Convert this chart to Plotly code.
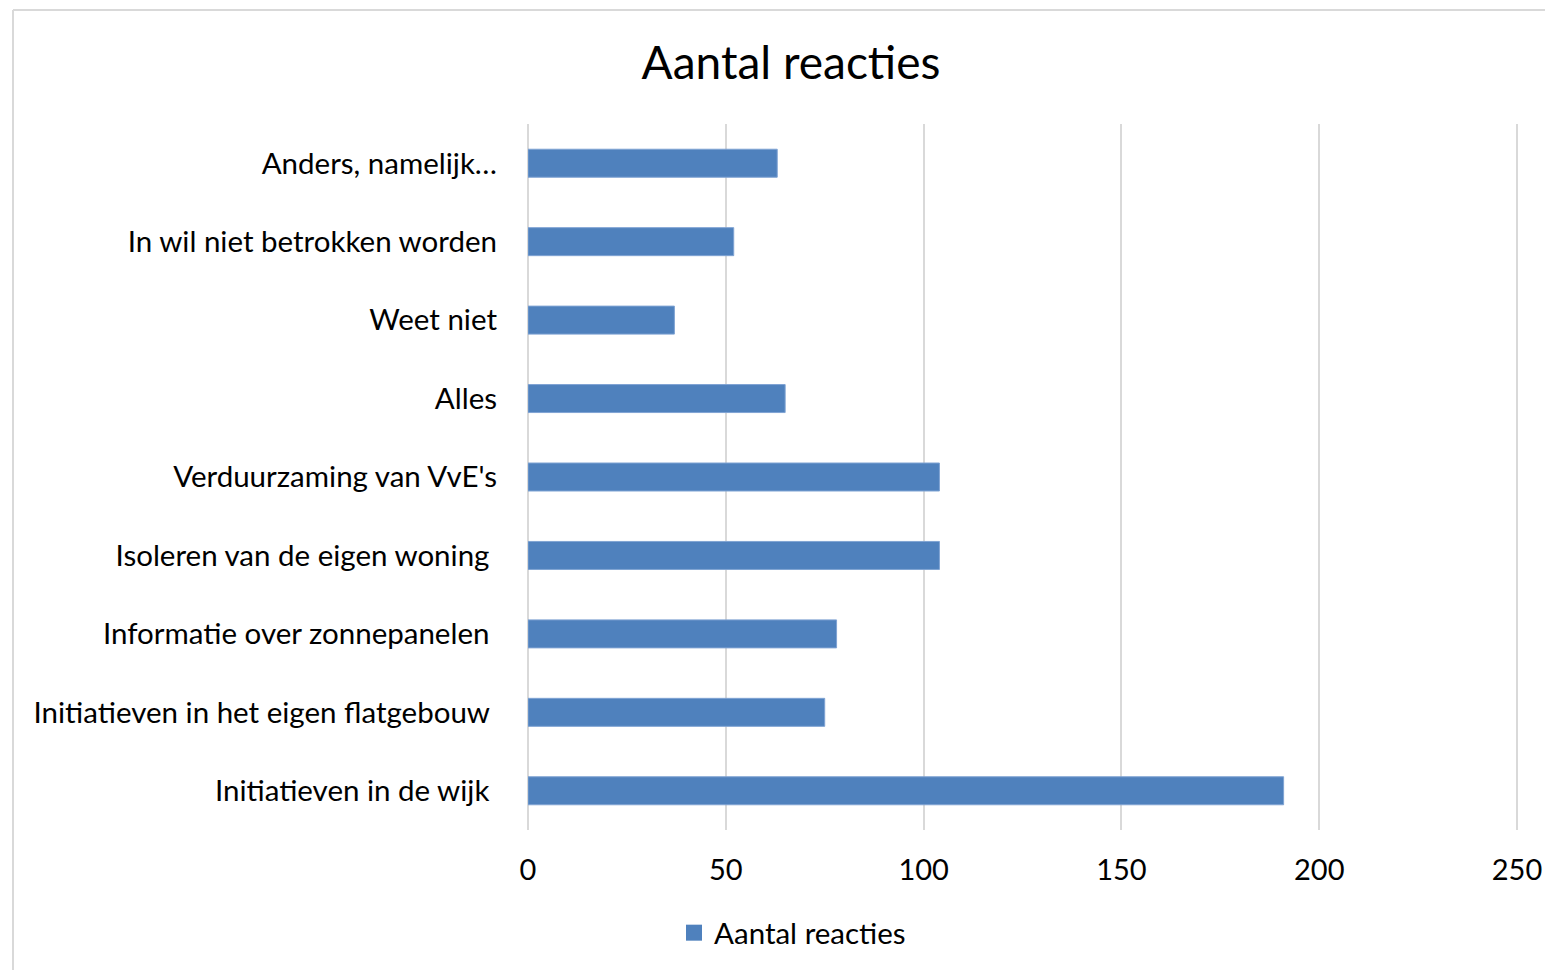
import plotly.graph_objects as go

categories = [
    "Initiatieven in de wijk\u00a0",
    "Initiatieven in het eigen flatgebouw\u00a0",
    "Informatie over zonnepanelen\u00a0",
    "Isoleren van de eigen woning\u00a0",
    "Verduurzaming van VvE's",
    "Alles",
    "Weet niet",
    "In wil niet betrokken worden",
    "Anders, namelijk…",
]
values = [191, 75, 78, 104, 104, 65, 37, 52, 63]
series_name = "Aantal reacties"
x_ticks = [0, 50, 100, 150, 200, 250]

OFF = 8  # page body margin
W, H = 1553 - OFF, 970 - OFF
X_MAX = 250.5
PX_PER_UNIT = (1517 - 528) / 250
L, T, B = 528 - OFF, 124 - OFF, 970 - 830
R = W - L - PX_PER_UNIT * X_MAX
FONT = "Lato"
FS = 29.5

fig = go.Figure()
fig.add_trace(go.Bar(
    y=categories, x=values, orientation="h", name=series_name,
    marker=dict(color="#4f81bd", line=dict(color="#7fa3d3", width=1)),
    showlegend=False,
))
# legend proxy (square swatch like the original)
fig.add_trace(go.Scatter(
    x=[None], y=[None], mode="markers", name=series_name,
    marker=dict(symbol="square", size=17, color="#4f81bd"),
    showlegend=True, hoverinfo="skip",
))

pw = W - L - R
ph = H - T - B
def px_x(p):
    return (p - OFF - L) / pw
def px_y(p):
    return 1 - (p - OFF - T) / ph

fig.update_layout(
    width=W, height=H,
    margin=dict(l=L, r=R, t=T, b=B, autoexpand=False),
    paper_bgcolor="white", plot_bgcolor="white",
    font=dict(family=FONT, color="#000000", size=FS),
    bargap=0.643,
    title=dict(text="Aantal reacties", x=(791 - OFF) / W, xanchor="center", xref="container",
               y=1 - (63 - OFF) / H, yanchor="middle", yref="container",
               font=dict(size=46, family=FONT, color="#000000")),
    xaxis=dict(range=[0, X_MAX], tickvals=x_ticks, showgrid=True, gridcolor="#d9d9d9", gridwidth=2,
               zeroline=True, zerolinecolor="#d9d9d9", zerolinewidth=2, showline=False,
               ticks="", tickfont=dict(size=29, family=FONT), ticklabelstandoff=20, fixedrange=True),
    yaxis=dict(showgrid=False, showline=False, ticks="", tickfont=dict(size=FS, family=FONT),
               ticklabelstandoff=30, fixedrange=True),
    legend=dict(orientation="h", x=(674 - OFF) / W, xanchor="left", xref="container",
                y=1 - (933 - OFF) / H, yanchor="middle", yref="container",
                font=dict(size=FS, family=FONT), itemwidth=30, traceorder="normal"),
    shapes=[
        dict(type="line", xref="paper", yref="paper", x0=px_x(13), x1=px_x(1600),
             y0=px_y(10), y1=px_y(10), line=dict(color="#d9d9d9", width=2), layer="below"),
        dict(type="line", xref="paper", yref="paper", x0=px_x(13), x1=px_x(13),
             y0=px_y(10), y1=px_y(1000), line=dict(color="#d9d9d9", width=2), layer="below"),
    ],
)

fig.write_html("out.html")
